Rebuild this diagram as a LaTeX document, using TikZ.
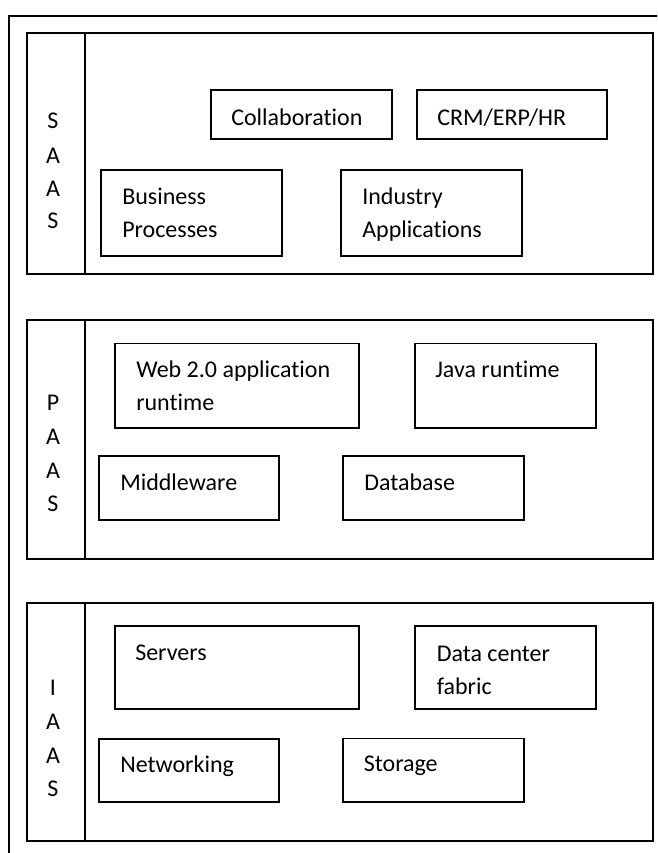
\documentclass[tikz,border=0pt]{standalone}
\usepackage{fontspec}
\setmainfont{Carlito}[Ligatures=NoCommon]
\usetikzlibrary{fit}
\begin{document}
\begin{tikzpicture}[x=0.75pt,y=-0.75pt,
  frame/.style={draw, line width=1.4pt, inner sep=0pt, outer sep=0pt},
  txt/.style={anchor=base west, inner sep=0pt, font=\fontsize{18}{25}\selectfont},
  letter/.style={anchor=base, inner sep=0pt, font=\fontsize{18}{25}\selectfont}]

\useasboundingbox (0,0) rectangle (657,853);

% outer page frame, running off the right and bottom edges
\begin{scope}
  \clip (0,0) rectangle (657,853);
  \draw[line width=1.4pt] (9,15.7) rectangle (700,900);
\end{scope}

% ---------------- SaaS layer ----------------
\node[frame, fit={(26.7,33.3) (653.3,274)}] (saas) {};
\node[frame, fit={(26.7,33.3) (85.3,274)}] (saascol) {};
\node[letter] (saasL1) at (53,128.5) {S};
\node[letter] (saasL2) at (53,163) {A};
\node[letter] (saasL3) at (53,196.5) {A};
\node[letter] (saasL4) at (53,228.5) {S};

\node[frame, fit={(210.7,90) (391.7,139.3)}] (collab) {};
\node[txt] (collabT) at (231,125) {Collaboration};
\node[frame, fit={(416.7,90) (607.3,139.3)}] (crm) {};
\node[txt] (crmT) at (437,125) {CRM/ERP/HR};
\node[frame, fit={(100.7,170) (281.7,256)}] (bp) {};
\node[txt] (bpT1) at (122,204) {Business};
\node[txt] (bpT2) at (122,237) {Processes};
\node[frame, fit={(340.7,170) (521.7,256)}] (ind) {};
\node[txt] (indT1) at (362,204) {Industry};
\node[txt] (indT2) at (362,237) {Applications};

% ---------------- PaaS layer ----------------
\node[frame, fit={(26.7,320) (653.3,559.3)}] (paas) {};
\node[frame, fit={(26.7,320) (85.3,559.3)}] (paascol) {};
\node[letter] (paasL1) at (53,410.5) {P};
\node[letter] (paasL2) at (53,444.5) {A};
\node[letter] (paasL3) at (53,478) {A};
\node[letter] (paasL4) at (53,511.5) {S};

\node[frame, fit={(115,343.5) (359.3,428)}] (web) {};
\node[txt] (webT1) at (136,377.5) {Web 2.0 application};
\node[txt] (webT2) at (136,410.7) {runtime};
\node[frame, fit={(415,343.5) (595.7,428)}] (java) {};
\node[txt] (javaT) at (435,377.7) {Java runtime};
\node[frame, fit={(99,455.7) (279.3,520)}] (mw) {};
\node[txt] (mwT) at (120,490) {Middleware};
\node[frame, fit={(342.7,455.7) (523.7,520)}] (db) {};
\node[txt] (dbT) at (364,490) {Database};

% ---------------- IaaS layer ----------------
\node[frame, fit={(26.7,602.7) (653.3,841)}] (iaas) {};
\node[frame, fit={(26.7,602.7) (85.3,841)}] (iaascol) {};
\node[letter] (iaasL1) at (53,695.5) {I};
\node[letter] (iaasL2) at (53,729.5) {A};
\node[letter] (iaasL3) at (53,763) {A};
\node[letter] (iaasL4) at (53,796.5) {S};

\node[frame, fit={(115,626) (359.3,709.3)}] (srv) {};
\node[txt] (srvT) at (135,660) {Servers};
\node[frame, fit={(415,626) (595.7,709.3)}] (dc) {};
\node[txt] (dcT1) at (436.5,661) {Data center};
\node[txt] (dcT2) at (436.5,694.3) {fabric};
\node[frame, fit={(99,739) (279.3,801.7)}] (net) {};
\node[txt] (netT) at (120,772.7) {Networking};
\node[frame, fit={(342.7,738.5) (523.7,802)}] (sto) {};
\node[txt] (stoT) at (363.5,771.7) {Storage};

\end{tikzpicture}
\end{document}
